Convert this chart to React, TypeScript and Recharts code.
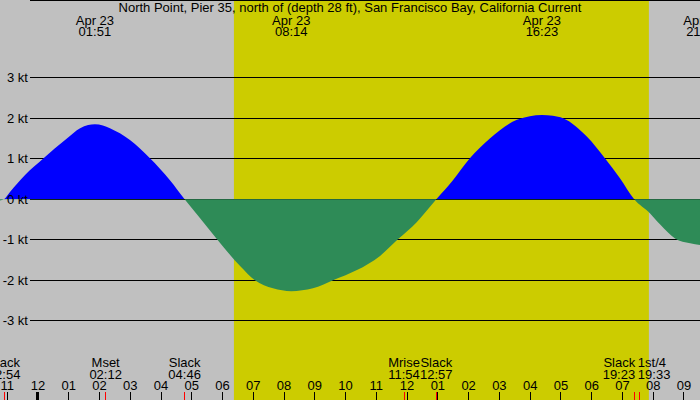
import React from "react";
import {
  ComposedChart,
  Area,
  XAxis,
  YAxis,
  ReferenceArea,
  ReferenceLine,
  CartesianGrid,
} from "recharts";

const TITLE =
  "North Point, Pier 35, north of (depth 28 ft), San Francisco Bay, California Current";

// time in hours relative to midnight, Apr 23
const times = [
  -1.235, -1.105, -0.91, -0.42, 0.163, 0.94, 1.37, 1.63, 1.85, 2.11, 2.34, 2.99,
  3.64, 4.29, 4.767, 5.27, 5.82, 6.57, 7.05, 7.64, 8.233, 8.94, 9.59, 10.37,
  11.12, 11.7, 12.32, 12.95, 13.49, 14.04, 14.69, 15.57, 15.99, 16.383, 16.74,
  17.07, 17.85, 18.43, 18.92, 19.383, 19.9, 20.22, 20.71, 21.2, 21.522,
];
// current speed in knots (+ flood, - ebb)
const speeds = [
  -0.03, 0, 0.18, 0.6, 1.0, 1.5, 1.75, 1.83, 1.85, 1.82, 1.75, 1.46, 1.01, 0.47,
  0, -0.47, -0.99, -1.65, -2.0, -2.2, -2.27, -2.2, -2.0, -1.75, -1.4, -0.99,
  -0.56, 0, 0.47, 1.01, 1.5, 1.96, 2.05, 2.08, 2.06, 2.0, 1.54, 1.01, 0.52, 0,
  -0.35, -0.62, -0.97, -1.09, -1.13,
];

const hourTicks = [
  -1, 0, 1, 2, 3, 4, 5, 6, 7, 8, 9, 10, 11, 12, 13, 14, 15, 16, 17, 18, 19, 20, 21,
];
const hourLabels = [
  "11", "12", "01", "02", "03", "04", "05", "06", "07", "08", "09", "10", "11",
  "12", "01", "02", "03", "04", "05", "06", "07", "08", "09",
];

const ktTicks = [3, 2, 1, 0, -1, -2, -3];
const ktLabels = ["3 kt", "2 kt", "1 kt", "0 kt", "-1 kt", "-2 kt", "-3 kt"];

const extremeTimes = [1.85, 8.233, 16.383, 21.6];
const extremeDates = ["Apr 23", "Apr 23", "Apr 23", "Apr 23"];
const extremeLabels = ["01:51", "08:14", "16:23", "21:36"];

const eventTimes = [-1.1, 2.2, 4.767, 11.9, 12.95, 19.383, 19.55];
const eventNames = ["Slack", "Mset", "Slack", "Mrise", "Slack", "Slack", "1st/4"];
const eventLabels = ["22:54", "02:12", "04:46", "11:54", "12:57", "19:23", "19:33"];
const eventAnchors = ["middle", "middle", "middle", "middle", "middle", "end", "start"];

const sunrise = 6.37;
const sunset = 19.86;

const xDomain = [-1.235, 21.522];
const yDomain = [-4.958, 4.9185];

const data = times.map((t, i) => ({ t, v: speeds[i] }));

const W = 700;
const H = 400;
const FONT = "'Liberation Sans', Arial, Helvetica, sans-serif";
const FS = 13;

const GRAY = "#c0c0c0";
const YELLOW = "#cccc00";
const FLOOD = "#0000ff";
const EBB = "#2e8b57";

const zeroFrac = yDomain[1] / (yDomain[1] - yDomain[0]);

const txt = {
  fontFamily: FONT,
  fontSize: FS,
  fill: "#000",
};

export default function App() {
  return (
    <div
      style={{
        position: "absolute",
        left: 0,
        top: 0,
        width: W,
        height: H,
        background: GRAY,
        overflow: "hidden",
      }}
    >
      <ComposedChart
        width={W}
        height={H}
        data={data}
        margin={{ top: 0, right: 0, bottom: 0, left: 0 }}
      >
        <defs>
          <linearGradient
            id="tideFill"
            x1="0"
            y1="0"
            x2="0"
            y2={H}
            gradientUnits="userSpaceOnUse"
          >
            <stop offset={zeroFrac} stopColor={FLOOD} />
            <stop offset={zeroFrac} stopColor={EBB} />
          </linearGradient>
        </defs>
        <XAxis type="number" dataKey="t" domain={xDomain} allowDataOverflow hide />
        <YAxis type="number" domain={yDomain} allowDataOverflow ticks={ktTicks} hide />
        <ReferenceArea
          x1={sunrise}
          x2={sunset}
          fill={YELLOW}
          fillOpacity={1}
          stroke="none"
          zIndex={-200}
        />
        <CartesianGrid
          vertical={false}
          zIndex={-100}
          horizontal={(p: any) => (
            <line
              key={p.key}
              x1={30}
              y1={p.y1}
              x2={p.x2}
              y2={p.y2}
              stroke="#000"
              strokeWidth={1}
              shapeRendering="crispEdges"
            />
          )}
        />
        <Area
          type="monotone"
          dataKey="v"
          baseValue={0}
          stroke="none"
          fill="url(#tideFill)"
          fillOpacity={1}
          dot={false}
          activeDot={false}
          isAnimationActive={false}
        />
        {ktTicks.map((k, i) => (
          <ReferenceLine
            key={"kt" + i}
            y={k}
            zIndex={2000}
            shape={(p: any) => (
              <text x={28} y={p.y1} dy={4.5} textAnchor="end" {...txt}>
                {ktLabels[i]}
              </text>
            )}
          />
        ))}
        {hourTicks.map((h, i) => (
          <ReferenceLine
            key={"hr" + i}
            x={h}
            zIndex={2000}
            shape={(p: any) => (
              <g>
                <text x={p.x1} y={390} textAnchor="middle" {...txt}>
                  {hourLabels[i]}
                </text>
                <line
                  x1={p.x1}
                  x2={p.x1}
                  y1={392}
                  y2={400}
                  stroke="#000"
                  strokeWidth={h % 24 === 0 ? 3 : 1}
                  shapeRendering="crispEdges"
                />
              </g>
            )}
          />
        ))}
        {extremeTimes.map((t, i) => (
          <ReferenceLine
            key={"ex" + i}
            x={t}
            ifOverflow="visible"
            zIndex={2000}
            shape={(p: any) => (
              <g>
                <text x={p.x1} y={24.5} textAnchor="middle" {...txt}>
                  {extremeDates[i]}
                </text>
                <text x={p.x1} y={36} textAnchor="middle" {...txt}>
                  {extremeLabels[i]}
                </text>
              </g>
            )}
          />
        ))}
        {eventTimes.map((t, i) => (
          <ReferenceLine
            key={"ev" + i}
            x={t}
            ifOverflow="visible"
            zIndex={2000}
            shape={(p: any) => {
              const anchor = eventAnchors[i];
              const dx = anchor === "end" ? 1 : anchor === "start" ? -1.5 : 0;
              return (
                <g>
                  <text x={p.x1 + dx} y={366.5} textAnchor={anchor} {...txt}>
                    {eventNames[i]}
                  </text>
                  <text x={p.x1 + dx} y={378.5} textAnchor={anchor} {...txt}>
                    {eventLabels[i]}
                  </text>
                  <line
                    x1={p.x1}
                    x2={p.x1}
                    y1={392}
                    y2={400}
                    stroke="#ff0000"
                    strokeWidth={1}
                    shapeRendering="crispEdges"
                  />
                </g>
              );
            }}
          />
        ))}
        <text x={W / 2} y={12} textAnchor="middle" {...txt}>
          {TITLE}
        </text>
      </ComposedChart>
    </div>
  );
}
